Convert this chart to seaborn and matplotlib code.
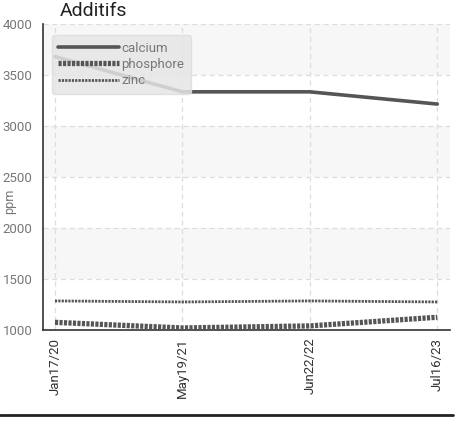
import numpy as np
import pandas as pd
import matplotlib
matplotlib.use('Agg')
import matplotlib.pyplot as plt
import seaborn as sns
from matplotlib.lines import Line2D

sns.set_style('white')
plt.rcParams['font.family'] = ['Roboto', 'DejaVu Sans']

# data
dates = ['Jan17/20', 'May19/21', 'Jun22/22', 'Jul16/23']
calcium = [3680, 3335, 3335, 3215]
phosphore = [1075, 1020, 1040, 1125]
zinc = [1285, 1275, 1285, 1275]

df = pd.DataFrame({
    'pos': list(range(len(dates))) * 3,
    'value': calcium + phosphore + zinc,
    'element': ['calcium'] * 4 + ['phosphore'] * 4 + ['zinc'] * 4,
})

fig = plt.figure(figsize=(4.58, 4.23), dpi=100)
ax = fig.add_axes([43 / 458, 1 - 330 / 423, 407 / 458, 306 / 423])

# alternating bands
for lo in range(1000, 4000, 500):
    if ((lo - 1000) // 500) % 2 == 1:
        ax.axhspan(lo, lo + 500, color='#f7f7f7', zorder=0, lw=0)

sns.lineplot(data=df, x='pos', y='value', hue='element', style='element',
             palette={'calcium': '#555555', 'phosphore': '#555555', 'zinc': '#555555'},
             dashes={'calcium': '', 'phosphore': (0.6, 0.25), 'zinc': (0.8, 0.4)},
             size='element', sizes={'calcium': 2.6, 'phosphore': 3.8, 'zinc': 2.0},
             ax=ax, legend=False, zorder=3)

ax.set_xlim(-0.094, 3.1)
ax.set_ylim(1000, 4000)
ax.set_xticks(range(len(dates)))
ax.set_xticklabels(dates, rotation=90, color='#777777', fontsize=9.5)
ax.set_yticks(range(1000, 4001, 500))
ax.tick_params(axis='y', colors='#333333', labelcolor='#777777', labelsize=9.5,
               length=4, width=1, direction='out')
ax.tick_params(axis='x', colors='#333333', length=4, width=1, direction='inout')
ax.set_xlabel('')
ax.set_ylabel('ppm', color='#777777', fontsize=9, labelpad=0)
ax.yaxis.set_label_coords(-0.066, 0.42)

ax.grid(True, linestyle=(0, (4, 3)), color='#dddddd', lw=0.9)
ax.set_axisbelow(True)
for s in ['top', 'right']:
    ax.spines[s].set_visible(False)
for s in ['left', 'bottom']:
    ax.spines[s].set_color('#333333')
    ax.spines[s].set_linewidth(1.2)

handles = [
    Line2D([], [], color='#555555', lw=2.6),
    Line2D([], [], color='#555555', lw=3.8, dashes=(0.6, 0.25)),
    Line2D([], [], color='#555555', lw=2.0, dashes=(0.8, 0.4)),
]
leg = ax.legend(handles, ['calcium', 'phosphore', 'zinc'], loc='upper left',
                bbox_to_anchor=(0.005, 0.985), handlelength=4.6, handletextpad=0.2,
                labelspacing=0.25, fontsize=9.5, frameon=True, fancybox=True,
                borderpad=0.5, labelcolor='#777777')
leg.get_frame().set_facecolor('#e6e6e6')
leg.get_frame().set_edgecolor('#dddddd')
leg.get_frame().set_alpha(0.85)

fig.text(60 / 458, 1 - 16 / 423, 'Additifs', fontsize=14, color='#222222', va='baseline')
fig.add_artist(Line2D([0, 453 / 458], [1 - 415 / 423] * 2, color='#222222', lw=2))

fig.savefig('out.png', dpi=100)
